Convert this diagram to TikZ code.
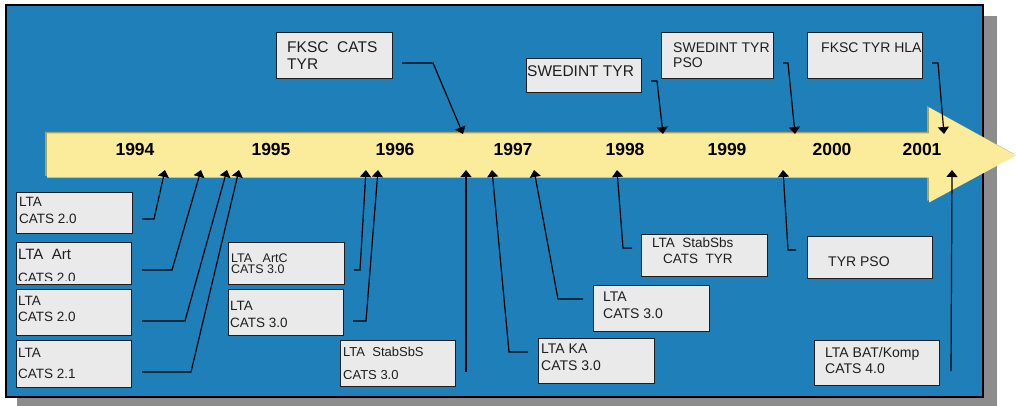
\documentclass[tikz,border=0pt]{standalone}
\usepackage{fontspec}
\setmainfont{Liberation Sans}
\usetikzlibrary{arrows.meta}
\definecolor{panel}{RGB}{31,128,185}
\definecolor{shadowgray}{RGB}{140,140,140}
\definecolor{arrowyellow}{RGB}{251,236,155}
\definecolor{arrowolive}{RGB}{178,162,92}
\definecolor{boxfill}{RGB}{234,234,234}
\definecolor{ink}{RGB}{30,30,30}
\newcommand\mybox[5]{\node[box,anchor=north west,minimum width=#4pt,minimum height=#5pt] (#1) at (#2,#3) {};}
\begin{document}
\begin{tikzpicture}[x=1pt,y=-1pt,
  box/.style={draw=ink, line width=1.3pt, fill=boxfill, inner sep=0pt},
  lbl/.style={anchor=base west, inner sep=0pt, text=ink},
  year/.style={anchor=base, inner sep=0pt, font=\fontsize{17.5}{20}\selectfont\bfseries, text=black},
  conn/.style={line width=1.2pt, draw=black, -{Triangle[width=11pt,length=7pt]}},
  line/.style={line width=1.2pt, draw=black},
]
\useasboundingbox (0,0) rectangle (1016,406);
% shadow and panel
\fill[shadowgray] (17,16) rectangle (997,406);
\filldraw[fill=panel, draw=black, line width=1.5pt] (6,5) rectangle (983,397);
% timeline arrow
\fill[arrowolive] (45,132) -- (927,132) -- (927,106) -- (1014,154) -- (927,201) -- (927,176) -- (45,176) -- cycle;
\fill[arrowyellow] (47,133.5) -- (929,133.5) -- (929,107.5) -- (1016,155.5) -- (929,202.5) -- (929,177.5) -- (47,177.5) -- cycle;
% years
\node[year] (y94) at (135,156) {1994};
\node[year] (y95) at (271,156) {1995};
\node[year] (y96) at (395,156) {1996};
\node[year] (y97) at (513,156) {1997};
\node[year] (y98) at (625,156) {1998};
\node[year] (y99) at (727,156) {1999};
\node[year] (y00) at (832,156) {2000};
\node[year] (y01) at (922,156) {2001};

% ---------- top boxes ----------
\mybox{t1}{276}{32}{116}{46}
\node[lbl,font=\fontsize{15.5}{18}\selectfont] (t1a) at (287,53) {FKSC\ \ CATS};
\node[lbl,font=\fontsize{15.5}{18}\selectfont] (t1b) at (287,70) {TYR};
\mybox{t2}{526}{58}{115}{34}
\node[lbl,font=\fontsize{15.5}{18}\selectfont] (t2a) at (527,77) {SWEDINT TYR};
\mybox{t3}{661}{32}{112}{46}
\node[lbl,font=\fontsize{14}{16}\selectfont] (t3a) at (673,53) {SWEDINT TYR};
\node[lbl,font=\fontsize{14}{16}\selectfont] (t3b) at (673,68) {PSO};
\mybox{t4}{807}{32}{115}{46}
\node[lbl,font=\fontsize{14}{16}\selectfont] (t4a) at (821,53) {FKSC TYR HLA};

% top connectors
\coordinate (s1) at (402,63); \coordinate (e1) at (463,134);
\coordinate (s2) at (651,81); \coordinate (e2) at (663,134);
\coordinate (s3) at (783,63); \coordinate (e3) at (795,134);
\coordinate (s4) at (932,63); \coordinate (e4) at (944,134);
\draw[conn] (s1) -- (433,63) -- (e1);
\draw[conn] (s2) -- (657,81) -- (e2);
\draw[conn] (s3) -- (788,63) -- (e3);
\draw[conn] (s4) -- (938,63) -- (e4);

% ---------- bottom boxes ----------
\mybox{b1}{16}{192}{116}{41}
\node[lbl,font=\fontsize{13.5}{16}\selectfont] (b1a) at (19,206) {LTA};
\node[lbl,font=\fontsize{13.5}{16}\selectfont] (b1b) at (19,223) {CATS 2.0};

\mybox{b2}{16}{242}{115}{42}
\node[lbl,font=\fontsize{15}{18}\selectfont] (b2a) at (18,259) {LTA\ \ Art};
\begin{scope}
\clip (17,243) rectangle (130,280.5);
\node[lbl,font=\fontsize{13.5}{16}\selectfont] (b2b) at (18,282) {CATS 2.0};
\end{scope}

\mybox{b3}{16}{289}{115}{46}
\node[lbl,font=\fontsize{13.5}{16}\selectfont] (b3a) at (18,305) {LTA};
\node[lbl,font=\fontsize{13.5}{16}\selectfont] (b3b) at (18,321) {CATS 2.0};

\mybox{b4}{16}{340}{115}{47}
\node[lbl,font=\fontsize{13.5}{16}\selectfont] (b4a) at (18,357) {LTA};
\node[lbl,font=\fontsize{13.5}{16}\selectfont] (b4b) at (18,378) {CATS 2.1};

\mybox{b5}{228}{242}{116}{42}
\node[lbl,font=\fontsize{12.5}{14}\selectfont] (b5a) at (231,262.5) {LTA\ \ \ ArtC};
\node[lbl,font=\fontsize{12.5}{14}\selectfont] (b5b) at (231,273) {CATS 3.0};

\mybox{b6}{228}{289}{115}{46}
\node[lbl,font=\fontsize{13.5}{16}\selectfont] (b6a) at (230,310) {LTA};
\node[lbl,font=\fontsize{13.5}{16}\selectfont] (b6b) at (230,327) {CATS 3.0};

\mybox{b7}{340}{340}{115}{46}
\node[lbl,font=\fontsize{13}{16}\selectfont] (b7a) at (343,356) {LTA\ \ StabSbS};
\begin{scope}
\clip (341,341) rectangle (454,378);
\node[lbl,font=\fontsize{13}{16}\selectfont] (b7b) at (343,379.5) {CATS 3.0};
\end{scope}

\mybox{b8}{538}{338}{116}{45}
\node[lbl,font=\fontsize{14}{16}\selectfont] (b8a) at (541,353) {LTA KA};
\node[lbl,font=\fontsize{14}{16}\selectfont] (b8b) at (541,370) {CATS 3.0};

\mybox{b9}{593}{285}{116}{46}
\node[lbl,font=\fontsize{14}{16}\selectfont] (b9a) at (603,301) {LTA};
\node[lbl,font=\fontsize{14}{16}\selectfont] (b9b) at (603,318) {CATS 3.0};

\mybox{b10}{641}{234}{126}{42}
\node[lbl,font=\fontsize{13.5}{16}\selectfont] (b10a) at (652,247) {LTA\ \ StabSbs};
\node[lbl,font=\fontsize{13.5}{16}\selectfont] (b10b) at (663,263) {CATS\ \ TYR};

\mybox{b11}{807}{236}{125}{42}
\node[lbl,font=\fontsize{14}{16}\selectfont] (b11a) at (828,266) {TYR PSO};

\mybox{b12}{814}{340}{125}{45}
\node[lbl,font=\fontsize{14}{16}\selectfont] (b12a) at (825,357) {LTA BAT/Komp};
\node[lbl,font=\fontsize{14}{16}\selectfont] (b12b) at (825,373) {CATS 4.0};

% bottom connectors
\coordinate (u1) at (142,219); \coordinate (v1) at (165,170);
\coordinate (u2) at (142,270); \coordinate (v2) at (201,170);
\coordinate (u3) at (142,321); \coordinate (v3) at (227,170);
\coordinate (u4) at (142,372); \coordinate (v4) at (239,170);
\coordinate (u5) at (354,270); \coordinate (v5) at (366,170);
\coordinate (u6) at (353,321); \coordinate (v6) at (378,170);
\coordinate (u7) at (466,372); \coordinate (v7) at (466,170);
\coordinate (u8) at (528,352); \coordinate (v8) at (492,170);
\coordinate (u9) at (583,299); \coordinate (v9) at (534,170);
\coordinate (u10) at (632,248); \coordinate (v10) at (617,170);
\coordinate (u11) at (796,250); \coordinate (v11) at (783,170);
\coordinate (u12) at (951,371); \coordinate (v12) at (952,170);
\draw[conn] (u1) -- (154,219) -- (v1);
\draw[conn] (u2) -- (172,270) -- (v2);
\draw[conn] (u3) -- (185,321) -- (v3);
\draw[conn] (u4) -- (191,372) -- (v4);
\draw[conn] (u5) -- (360,270) -- (v5);
\draw[conn] (u6) -- (366,321) -- (v6);
\draw[conn] (u7) -- (v7);
\draw[conn] (u8) -- (509,352) -- (v8);
\draw[conn] (u9) -- (558,299) -- (v9);
\draw[conn] (u10) -- (623,248) -- (v10);
\draw[conn] (u11) -- (788,250) -- (v11);
\draw[conn] (u12) -- (v12);
\end{tikzpicture}
\end{document}
